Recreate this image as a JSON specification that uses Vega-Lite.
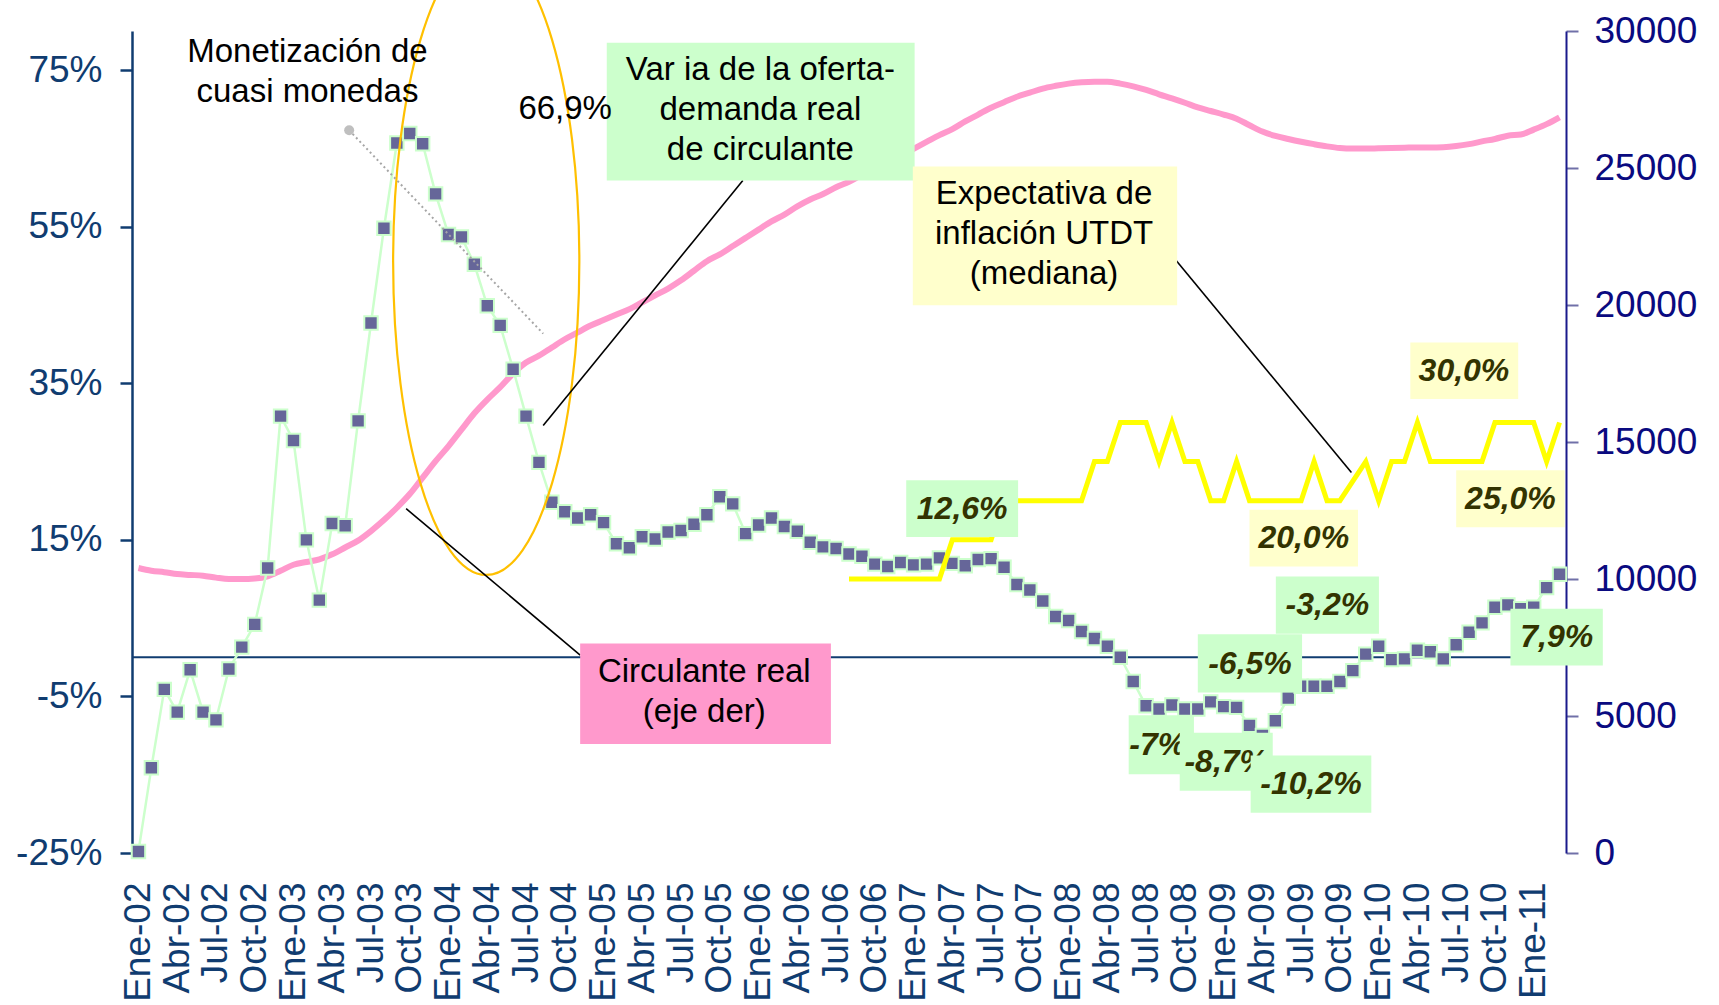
{
  "$schema": "https://vega.github.io/schema/vega-lite/v6.json",
  "width": 1434,
  "height": 822,
  "autosize": "none",
  "padding": {"left": 132, "top": 31, "right": 153, "bottom": 152},
  "background": "white",
  "config": {"view": {"stroke": null}, "font": "Liberation Sans", "axis": {"grid": false},
    "axisX": {"labelOverlap": false, "labelAngle": -90, "labelFontSize": 37, "labelColor": "#103C70", "labelPadding": 29, "domain": false, "ticks": false, "labelFlush": false, "labelBound": false, "labelSeparation": 0, "tickCount": 60}},
  "datasets": {
    "serie": [
      {"n":0,"mes":"Ene-02","var":-24.8,"circ":10400,"exp":null},
      {"n":1,"mes":"Feb-02","var":-14.1,"circ":10300,"exp":null},
      {"n":2,"mes":"Mar-02","var":-4.1,"circ":10250,"exp":null},
      {"n":3,"mes":"Abr-02","var":-7.0,"circ":10180,"exp":null},
      {"n":4,"mes":"May-02","var":-1.6,"circ":10150,"exp":null},
      {"n":5,"mes":"Jun-02","var":-7.0,"circ":10120,"exp":null},
      {"n":6,"mes":"Jul-02","var":-8.0,"circ":10050,"exp":null},
      {"n":7,"mes":"Ago-02","var":-1.5,"circ":10000,"exp":null},
      {"n":8,"mes":"Sep-02","var":1.3,"circ":10000,"exp":null},
      {"n":9,"mes":"Oct-02","var":4.2,"circ":10020,"exp":null},
      {"n":10,"mes":"Nov-02","var":11.4,"circ":10100,"exp":null},
      {"n":11,"mes":"Dic-02","var":30.8,"circ":10300,"exp":null},
      {"n":12,"mes":"Ene-03","var":27.7,"circ":10520,"exp":null},
      {"n":13,"mes":"Feb-03","var":15.0,"circ":10620,"exp":null},
      {"n":14,"mes":"Mar-03","var":7.3,"circ":10720,"exp":null},
      {"n":15,"mes":"Abr-03","var":17.1,"circ":10900,"exp":null},
      {"n":16,"mes":"May-03","var":16.8,"circ":11150,"exp":null},
      {"n":17,"mes":"Jun-03","var":30.2,"circ":11400,"exp":null},
      {"n":18,"mes":"Jul-03","var":42.7,"circ":11750,"exp":null},
      {"n":19,"mes":"Ago-03","var":54.8,"circ":12150,"exp":null},
      {"n":20,"mes":"Sep-03","var":65.7,"circ":12600,"exp":null},
      {"n":21,"mes":"Oct-03","var":66.9,"circ":13100,"exp":null},
      {"n":22,"mes":"Nov-03","var":65.6,"circ":13700,"exp":null},
      {"n":23,"mes":"Dic-03","var":59.2,"circ":14300,"exp":null},
      {"n":24,"mes":"Ene-04","var":54.0,"circ":14850,"exp":null},
      {"n":25,"mes":"Feb-04","var":53.7,"circ":15450,"exp":null},
      {"n":26,"mes":"Mar-04","var":50.2,"circ":16050,"exp":null},
      {"n":27,"mes":"Abr-04","var":44.9,"circ":16550,"exp":null},
      {"n":28,"mes":"May-04","var":42.4,"circ":17000,"exp":null},
      {"n":29,"mes":"Jun-04","var":36.8,"circ":17500,"exp":null},
      {"n":30,"mes":"Jul-04","var":30.8,"circ":17900,"exp":null},
      {"n":31,"mes":"Ago-04","var":24.9,"circ":18150,"exp":null},
      {"n":32,"mes":"Sep-04","var":19.8,"circ":18450,"exp":null},
      {"n":33,"mes":"Oct-04","var":18.6,"circ":18750,"exp":null},
      {"n":34,"mes":"Nov-04","var":17.8,"circ":19000,"exp":null},
      {"n":35,"mes":"Dic-04","var":18.2,"circ":19250,"exp":null},
      {"n":36,"mes":"Ene-05","var":17.2,"circ":19450,"exp":null},
      {"n":37,"mes":"Feb-05","var":14.5,"circ":19650,"exp":null},
      {"n":38,"mes":"Mar-05","var":14.0,"circ":19850,"exp":null},
      {"n":39,"mes":"Abr-05","var":15.4,"circ":20100,"exp":null},
      {"n":40,"mes":"May-05","var":15.1,"circ":20350,"exp":null},
      {"n":41,"mes":"Jun-05","var":16.0,"circ":20600,"exp":null},
      {"n":42,"mes":"Jul-05","var":16.2,"circ":20900,"exp":null},
      {"n":43,"mes":"Ago-05","var":17.0,"circ":21250,"exp":null},
      {"n":44,"mes":"Sep-05","var":18.2,"circ":21600,"exp":null},
      {"n":45,"mes":"Oct-05","var":20.5,"circ":21850,"exp":null},
      {"n":46,"mes":"Nov-05","var":19.6,"circ":22150,"exp":null},
      {"n":47,"mes":"Dic-05","var":15.8,"circ":22450,"exp":null},
      {"n":48,"mes":"Ene-06","var":16.9,"circ":22750,"exp":null},
      {"n":49,"mes":"Feb-06","var":17.8,"circ":23050,"exp":null},
      {"n":50,"mes":"Mar-06","var":16.7,"circ":23300,"exp":null},
      {"n":51,"mes":"Abr-06","var":16.1,"circ":23600,"exp":null},
      {"n":52,"mes":"May-06","var":14.7,"circ":23850,"exp":null},
      {"n":53,"mes":"Jun-06","var":14.1,"circ":24050,"exp":null},
      {"n":54,"mes":"Jul-06","var":13.9,"circ":24300,"exp":null},
      {"n":55,"mes":"Ago-06","var":13.2,"circ":24500,"exp":10},
      {"n":56,"mes":"Sep-06","var":12.9,"circ":24750,"exp":10},
      {"n":57,"mes":"Oct-06","var":11.9,"circ":24950,"exp":10},
      {"n":58,"mes":"Nov-06","var":11.6,"circ":25200,"exp":10},
      {"n":59,"mes":"Dic-06","var":12.1,"circ":25450,"exp":10},
      {"n":60,"mes":"Ene-07","var":11.8,"circ":25700,"exp":10},
      {"n":61,"mes":"Feb-07","var":11.9,"circ":25950,"exp":10},
      {"n":62,"mes":"Mar-07","var":12.7,"circ":26200,"exp":10},
      {"n":63,"mes":"Abr-07","var":12.0,"circ":26420,"exp":15},
      {"n":64,"mes":"May-07","var":11.7,"circ":26700,"exp":15},
      {"n":65,"mes":"Jun-07","var":12.5,"circ":26950,"exp":15},
      {"n":66,"mes":"Jul-07","var":12.6,"circ":27200,"exp":15},
      {"n":67,"mes":"Ago-07","var":11.5,"circ":27400,"exp":20},
      {"n":68,"mes":"Sep-07","var":9.3,"circ":27600,"exp":20},
      {"n":69,"mes":"Oct-07","var":8.6,"circ":27750,"exp":20},
      {"n":70,"mes":"Nov-07","var":7.2,"circ":27900,"exp":20},
      {"n":71,"mes":"Dic-07","var":5.2,"circ":28000,"exp":20},
      {"n":72,"mes":"Ene-08","var":4.7,"circ":28080,"exp":20},
      {"n":73,"mes":"Feb-08","var":3.3,"circ":28130,"exp":20},
      {"n":74,"mes":"Mar-08","var":2.4,"circ":28150,"exp":25},
      {"n":75,"mes":"Abr-08","var":1.4,"circ":28150,"exp":25},
      {"n":76,"mes":"May-08","var":0.0,"circ":28080,"exp":30},
      {"n":77,"mes":"Jun-08","var":-3.1,"circ":27980,"exp":30},
      {"n":78,"mes":"Jul-08","var":-6.2,"circ":27850,"exp":30},
      {"n":79,"mes":"Ago-08","var":-6.6,"circ":27690,"exp":25},
      {"n":80,"mes":"Sep-08","var":-6.1,"circ":27540,"exp":30},
      {"n":81,"mes":"Oct-08","var":-6.6,"circ":27380,"exp":25},
      {"n":82,"mes":"Nov-08","var":-6.6,"circ":27210,"exp":25},
      {"n":83,"mes":"Dic-08","var":-5.7,"circ":27080,"exp":20},
      {"n":84,"mes":"Ene-09","var":-6.3,"circ":26950,"exp":20},
      {"n":85,"mes":"Feb-09","var":-6.4,"circ":26800,"exp":25},
      {"n":86,"mes":"Mar-09","var":-8.7,"circ":26560,"exp":20},
      {"n":87,"mes":"Abr-09","var":-10.0,"circ":26330,"exp":20},
      {"n":88,"mes":"May-09","var":-8.1,"circ":26170,"exp":20},
      {"n":89,"mes":"Jun-09","var":-5.2,"circ":26060,"exp":20},
      {"n":90,"mes":"Jul-09","var":-3.7,"circ":25960,"exp":20},
      {"n":91,"mes":"Ago-09","var":-3.7,"circ":25870,"exp":25},
      {"n":92,"mes":"Sep-09","var":-3.7,"circ":25790,"exp":20},
      {"n":93,"mes":"Oct-09","var":-3.1,"circ":25730,"exp":20},
      {"n":94,"mes":"Nov-09","var":-1.7,"circ":25710,"exp":22.5},
      {"n":95,"mes":"Dic-09","var":0.4,"circ":25710,"exp":25},
      {"n":96,"mes":"Ene-10","var":1.4,"circ":25720,"exp":20},
      {"n":97,"mes":"Feb-10","var":-0.3,"circ":25730,"exp":25},
      {"n":98,"mes":"Mar-10","var":-0.2,"circ":25740,"exp":25},
      {"n":99,"mes":"Abr-10","var":0.9,"circ":25750,"exp":30},
      {"n":100,"mes":"May-10","var":0.7,"circ":25750,"exp":25},
      {"n":101,"mes":"Jun-10","var":-0.2,"circ":25760,"exp":25},
      {"n":102,"mes":"Jul-10","var":1.6,"circ":25800,"exp":25},
      {"n":103,"mes":"Ago-10","var":3.2,"circ":25870,"exp":25},
      {"n":104,"mes":"Sep-10","var":4.4,"circ":25970,"exp":25},
      {"n":105,"mes":"Oct-10","var":6.4,"circ":26060,"exp":30},
      {"n":106,"mes":"Nov-10","var":6.7,"circ":26180,"exp":30},
      {"n":107,"mes":"Dic-10","var":6.2,"circ":26220,"exp":30},
      {"n":108,"mes":"Ene-11","var":6.4,"circ":26400,"exp":30},
      {"n":109,"mes":"Feb-11","var":8.9,"circ":26600,"exp":25},
      {"n":110,"mes":"Mar-11","var":10.6,"circ":26850,"exp":30}
    ],
    "textos": [
      {"t":"Monetización de\ncuasi monedas","n":13.08,"v":77.37},
      {"t":"66,9%","n":33.03,"v":70.0},
      {"t":"Var ia de la oferta-\ndemanda real\nde circulante","n":48.14,"v":75.0},
      {"t":"Expectativa de\ninflación UTDT\n(mediana)","n":70.1,"v":59.22},
      {"t":"Circulante real\n(eje der)","n":43.8,"v":-1.82}
    ],
    "cajas": [
      {"n1":36.25,"n2":60.08,"v1":78.49,"v2":60.89,"fill":"#CCFFCC"},
      {"n1":59.94,"n2":80.4,"v1":62.7,"v2":44.97,"fill":"#FFFFCC"},
      {"n1":34.19,"n2":53.6,"v1":1.75,"v2":-11.08,"fill":"#FF99CC"}
    ],
    "lineas": [
      {"n1":46.78,"v1":60.89,"n2":31.33,"v2":29.6},
      {"n1":34.19,"v1":0.28,"n2":20.72,"v2":18.99},
      {"n1":79.55,"v1":52.23,"n2":93.89,"v2":23.6}
    ],
    "gris": [
      {"n1":16.31,"v1":67.32,"n2":31.33,"v2":41.34}
    ],
    "elipse": [
      {"n":26.92,"v":50.56}
    ],
    "etiquetas": [
      {"t":"12,6%","n1":59.43,"n2":68.09,"v1":22.63,"v2":15.36,"nt":63.76,"vt":19.0,"fill":"#CCFFCC","g":0},
      {"t":"-6,5%","n1":82.0,"n2":90.07,"v1":2.93,"v2":-4.5,"nt":86.04,"vt":-0.8,"fill":"#CCFFCC","g":0},
      {"t":"-3,2%","n1":88.04,"n2":96.02,"v1":10.33,"v2":3.0,"nt":92.03,"vt":6.67,"fill":"#CCFFCC","g":0},
      {"t":"7,9%","n1":106.2,"n2":113.35,"v1":6.2,"v2":-1.06,"nt":109.78,"vt":2.57,"fill":"#CCFFCC","g":0},
      {"t":"20,0%","n1":86.0,"n2":94.4,"v1":18.84,"v2":11.6,"nt":90.2,"vt":15.2,"fill":"#FFFFCC","g":0},
      {"t":"30,0%","n1":98.45,"n2":106.8,"v1":40.2,"v2":33.0,"nt":102.6,"vt":36.6,"fill":"#FFFFCC","g":0},
      {"t":"25,0%","n1":102.0,"n2":110.4,"v1":23.9,"v2":16.6,"nt":106.2,"vt":20.25,"fill":"#FFFFCC","g":0},
      {"t":"-7%","n1":76.65,"n2":81.7,"v1":-7.4,"v2":-14.94,"nt":78.9,"vt":-11.17,"fill":"#CCFFCC","g":1},
      {"t":"-8,7%","n1":80.6,"n2":87.8,"v1":-9.64,"v2":-17.04,"nt":84.2,"vt":-13.34,"fill":"#CCFFCC","g":2},
      {"t":"-10,2%","n1":86.09,"n2":95.43,"v1":-12.53,"v2":-19.87,"nt":90.76,"vt":-16.2,"fill":"#CCFFCC","g":3}
    ]
  },
  "layer": [
    {
      "data": {"name": "serie"},
      "mark": {"type": "line", "color": "#FF99CC", "strokeWidth": 6, "interpolate": "monotone"},
      "encoding": {
        "x": {"field": "n", "type": "quantitative", "title": null,
          "scale": {"domain": [-0.5, 110.5], "nice": false, "zero": false},
          "axis": {"orient": "bottom", "values": [0,3,6,9,12,15,18,21,24,27,30,33,36,39,42,45,48,51,54,57,60,63,66,69,72,75,78,81,84,87,90,93,96,99,102,105,108],
            "tickCount": 60,
            "labelExpr": "['Ene','Abr','Jul','Oct'][(datum.value % 12) / 3] + '-' + (datum.value < 96 ? '0' : '') + (2 + floor(datum.value / 12))",
            "labelAngle": -90, "labelFontSize": 37, "labelColor": "#103C70", "labelFont": "Liberation Sans",
            "domain": false, "ticks": false, "grid": false, "labelPadding": 29, "labelOverlap": false, "labelFlush": false, "labelBound": false, "labelSeparation": 0}},
        "y": {"field": "circ", "type": "quantitative", "title": null,
          "scale": {"domain": [0, 30000], "nice": false, "zero": false},
          "axis": {"orient": "right", "values": [0,5000,10000,15000,20000,25000,30000], "format": "d",
            "labelFontSize": 37, "labelColor": "#0A0A80", "labelFont": "Liberation Sans",
            "domainColor": "#1A1A8C", "domainWidth": 2, "tickColor": "#7070A8", "tickWidth": 2, "tickSize": 12,
            "labelPadding": 16, "grid": false, "labelFlush": false, "labelOverlap": false}}
      }
    },
    {
      "layer": [
        {
          "data": {"values": [{}]},
          "mark": {"type": "rule", "color": "#103C70", "strokeWidth": 2},
          "encoding": {
            "y": {"datum": 0, "type": "quantitative", "title": null, "scale": {"domain": [-25, 80], "nice": false, "zero": false}}
          }
        },
        {
          "data": {"name": "serie"},
          "mark": {"type": "line", "color": "#CCFFCC", "strokeWidth": 2.5},
          "encoding": {
            "x": {"field": "n", "type": "quantitative", "title": null, "scale": {"domain": [-0.5, 110.5], "nice": false, "zero": false}},
            "y": {"field": "var", "type": "quantitative", "title": null,
              "scale": {"domain": [-25, 80], "nice": false, "zero": false},
              "axis": {"orient": "left", "values": [-25,-5,15,35,55,75], "labelExpr": "datum.value + '%'",
                "labelFontSize": 37, "labelColor": "#103C70", "labelFont": "Liberation Sans",
                "domainColor": "#103C70", "domainWidth": 2.5, "tickColor": "#103C70", "tickWidth": 2.5, "tickSize": 12,
                "labelPadding": 18, "grid": false, "labelFlush": false, "labelOverlap": false}}
          }
        },
        {
          "data": {"name": "serie"},
          "mark": {"type": "point", "shape": "square", "size": 180, "filled": true, "color": "#666699", "stroke": "#CCFFCC", "strokeWidth": 2, "opacity": 1},
          "encoding": {
            "x": {"field": "n", "type": "quantitative", "title": null, "scale": {"domain": [-0.5, 110.5], "nice": false, "zero": false}},
            "y": {"field": "var", "type": "quantitative", "title": null, "scale": {"domain": [-25, 80], "nice": false, "zero": false}}
          }
        },
        {
          "data": {"name": "serie"},
          "mark": {"type": "line", "color": "#FFFF00", "strokeWidth": 5, "strokeJoin": "miter"},
          "encoding": {
            "x": {"field": "n", "type": "quantitative", "title": null, "scale": {"domain": [-0.5, 110.5], "nice": false, "zero": false}},
            "y": {"field": "exp", "type": "quantitative", "title": null, "scale": {"domain": [-25, 80], "nice": false, "zero": false}}
          }
        },
        {
          "data": {"name": "elipse"},
          "mark": {"type": "point", "shape": "M0,-1C0.164,-1 0.297,-0.552 0.297,0C0.297,0.552 0.164,1 0,1C-0.164,1 -0.297,0.552 -0.297,0C-0.297,-0.552 -0.164,-1 0,-1Z",
            "size": 393129, "filled": false, "stroke": "#FFC000", "strokeWidth": 2.2, "opacity": 1},
          "encoding": {
            "x": {"field": "n", "type": "quantitative", "title": null, "scale": {"domain": [-0.5, 110.5], "nice": false, "zero": false}},
            "y": {"field": "v", "type": "quantitative", "title": null, "scale": {"domain": [-25, 80], "nice": false, "zero": false}}
          }
        },
        {
          "data": {"name": "gris"},
          "mark": {"type": "rule", "color": "#A6A6A6", "strokeWidth": 2, "strokeDash": [2, 3]},
          "encoding": {
            "x": {"field": "n1", "type": "quantitative", "title": null, "scale": {"domain": [-0.5, 110.5], "nice": false, "zero": false}},
            "x2": {"field": "n2"},
            "y": {"field": "v1", "type": "quantitative", "title": null, "scale": {"domain": [-25, 80], "nice": false, "zero": false}},
            "y2": {"field": "v2"}
          }
        },
        {
          "data": {"name": "gris"},
          "mark": {"type": "point", "shape": "circle", "size": 100, "filled": true, "color": "#BFBFBF", "opacity": 1},
          "encoding": {
            "x": {"field": "n1", "type": "quantitative", "title": null, "scale": {"domain": [-0.5, 110.5], "nice": false, "zero": false}},
            "y": {"field": "v1", "type": "quantitative", "title": null, "scale": {"domain": [-25, 80], "nice": false, "zero": false}}
          }
        },
        {
          "data": {"name": "lineas"},
          "mark": {"type": "rule", "color": "#000000", "strokeWidth": 1.6},
          "encoding": {
            "x": {"field": "n1", "type": "quantitative", "title": null, "scale": {"domain": [-0.5, 110.5], "nice": false, "zero": false}},
            "x2": {"field": "n2"},
            "y": {"field": "v1", "type": "quantitative", "title": null, "scale": {"domain": [-25, 80], "nice": false, "zero": false}},
            "y2": {"field": "v2"}
          }
        },
        {
          "data": {"name": "cajas"},
          "mark": {"type": "rect"},
          "encoding": {
            "x": {"field": "n1", "type": "quantitative", "title": null, "scale": {"domain": [-0.5, 110.5], "nice": false, "zero": false}},
            "x2": {"field": "n2"},
            "y": {"field": "v1", "type": "quantitative", "title": null, "scale": {"domain": [-25, 80], "nice": false, "zero": false}},
            "y2": {"field": "v2"},
            "color": {"field": "fill", "type": "nominal", "scale": null, "legend": null}
          }
        },
        {
          "data": {"name": "textos"},
          "mark": {"type": "text", "fontSize": 33, "lineHeight": 40, "lineBreak": "\n", "align": "center", "baseline": "middle", "color": "#000000", "font": "Liberation Sans"},
          "encoding": {
            "x": {"field": "n", "type": "quantitative", "title": null, "scale": {"domain": [-0.5, 110.5], "nice": false, "zero": false}},
            "y": {"field": "v", "type": "quantitative", "title": null, "scale": {"domain": [-25, 80], "nice": false, "zero": false}},
            "text": {"field": "t", "type": "nominal"}
          }
        },
        {
          "data": {"name": "etiquetas"},
          "transform": [{"filter": "datum.g == 0"}],
          "mark": {"type": "rect"},
          "encoding": {
            "x": {"field": "n1", "type": "quantitative", "title": null, "scale": {"domain": [-0.5, 110.5], "nice": false, "zero": false}},
            "x2": {"field": "n2"},
            "y": {"field": "v1", "type": "quantitative", "title": null, "scale": {"domain": [-25, 80], "nice": false, "zero": false}},
            "y2": {"field": "v2"},
            "color": {"field": "fill", "type": "nominal", "scale": null, "legend": null}
          }
        },
        {
          "data": {"name": "etiquetas"},
          "transform": [{"filter": "datum.g == 0"}],
          "mark": {"type": "text", "fontSize": 32, "fontWeight": "bold", "fontStyle": "italic", "align": "center", "baseline": "middle", "color": "#333300", "font": "Liberation Sans"},
          "encoding": {
            "x": {"field": "nt", "type": "quantitative", "title": null, "scale": {"domain": [-0.5, 110.5], "nice": false, "zero": false}},
            "y": {"field": "vt", "type": "quantitative", "title": null, "scale": {"domain": [-25, 80], "nice": false, "zero": false}},
            "text": {"field": "t", "type": "nominal"}
          }
        },
        {
          "data": {"name": "etiquetas"},
          "transform": [{"filter": "datum.g == 1"}],
          "mark": {"type": "rect"},
          "encoding": {
            "x": {"field": "n1", "type": "quantitative", "title": null, "scale": {"domain": [-0.5, 110.5], "nice": false, "zero": false}},
            "x2": {"field": "n2"},
            "y": {"field": "v1", "type": "quantitative", "title": null, "scale": {"domain": [-25, 80], "nice": false, "zero": false}},
            "y2": {"field": "v2"},
            "color": {"field": "fill", "type": "nominal", "scale": null, "legend": null}
          }
        },
        {
          "data": {"name": "etiquetas"},
          "transform": [{"filter": "datum.g == 1"}],
          "mark": {"type": "text", "fontSize": 32, "fontWeight": "bold", "fontStyle": "italic", "align": "center", "baseline": "middle", "color": "#333300", "font": "Liberation Sans"},
          "encoding": {
            "x": {"field": "nt", "type": "quantitative", "title": null, "scale": {"domain": [-0.5, 110.5], "nice": false, "zero": false}},
            "y": {"field": "vt", "type": "quantitative", "title": null, "scale": {"domain": [-25, 80], "nice": false, "zero": false}},
            "text": {"field": "t", "type": "nominal"}
          }
        },
        {
          "data": {"name": "etiquetas"},
          "transform": [{"filter": "datum.g == 2"}],
          "mark": {"type": "rect"},
          "encoding": {
            "x": {"field": "n1", "type": "quantitative", "title": null, "scale": {"domain": [-0.5, 110.5], "nice": false, "zero": false}},
            "x2": {"field": "n2"},
            "y": {"field": "v1", "type": "quantitative", "title": null, "scale": {"domain": [-25, 80], "nice": false, "zero": false}},
            "y2": {"field": "v2"},
            "color": {"field": "fill", "type": "nominal", "scale": null, "legend": null}
          }
        },
        {
          "data": {"name": "etiquetas"},
          "transform": [{"filter": "datum.g == 2"}],
          "mark": {"type": "text", "fontSize": 32, "fontWeight": "bold", "fontStyle": "italic", "align": "center", "baseline": "middle", "color": "#333300", "font": "Liberation Sans"},
          "encoding": {
            "x": {"field": "nt", "type": "quantitative", "title": null, "scale": {"domain": [-0.5, 110.5], "nice": false, "zero": false}},
            "y": {"field": "vt", "type": "quantitative", "title": null, "scale": {"domain": [-25, 80], "nice": false, "zero": false}},
            "text": {"field": "t", "type": "nominal"}
          }
        },
        {
          "data": {"name": "etiquetas"},
          "transform": [{"filter": "datum.g == 3"}],
          "mark": {"type": "rect"},
          "encoding": {
            "x": {"field": "n1", "type": "quantitative", "title": null, "scale": {"domain": [-0.5, 110.5], "nice": false, "zero": false}},
            "x2": {"field": "n2"},
            "y": {"field": "v1", "type": "quantitative", "title": null, "scale": {"domain": [-25, 80], "nice": false, "zero": false}},
            "y2": {"field": "v2"},
            "color": {"field": "fill", "type": "nominal", "scale": null, "legend": null}
          }
        },
        {
          "data": {"name": "etiquetas"},
          "transform": [{"filter": "datum.g == 3"}],
          "mark": {"type": "text", "fontSize": 32, "fontWeight": "bold", "fontStyle": "italic", "align": "center", "baseline": "middle", "color": "#333300", "font": "Liberation Sans"},
          "encoding": {
            "x": {"field": "nt", "type": "quantitative", "title": null, "scale": {"domain": [-0.5, 110.5], "nice": false, "zero": false}},
            "y": {"field": "vt", "type": "quantitative", "title": null, "scale": {"domain": [-25, 80], "nice": false, "zero": false}},
            "text": {"field": "t", "type": "nominal"}
          }
        }
      ]
    }
  ],
  "resolve": {"scale": {"y": "independent"}, "axis": {"y": "independent"}}
}
